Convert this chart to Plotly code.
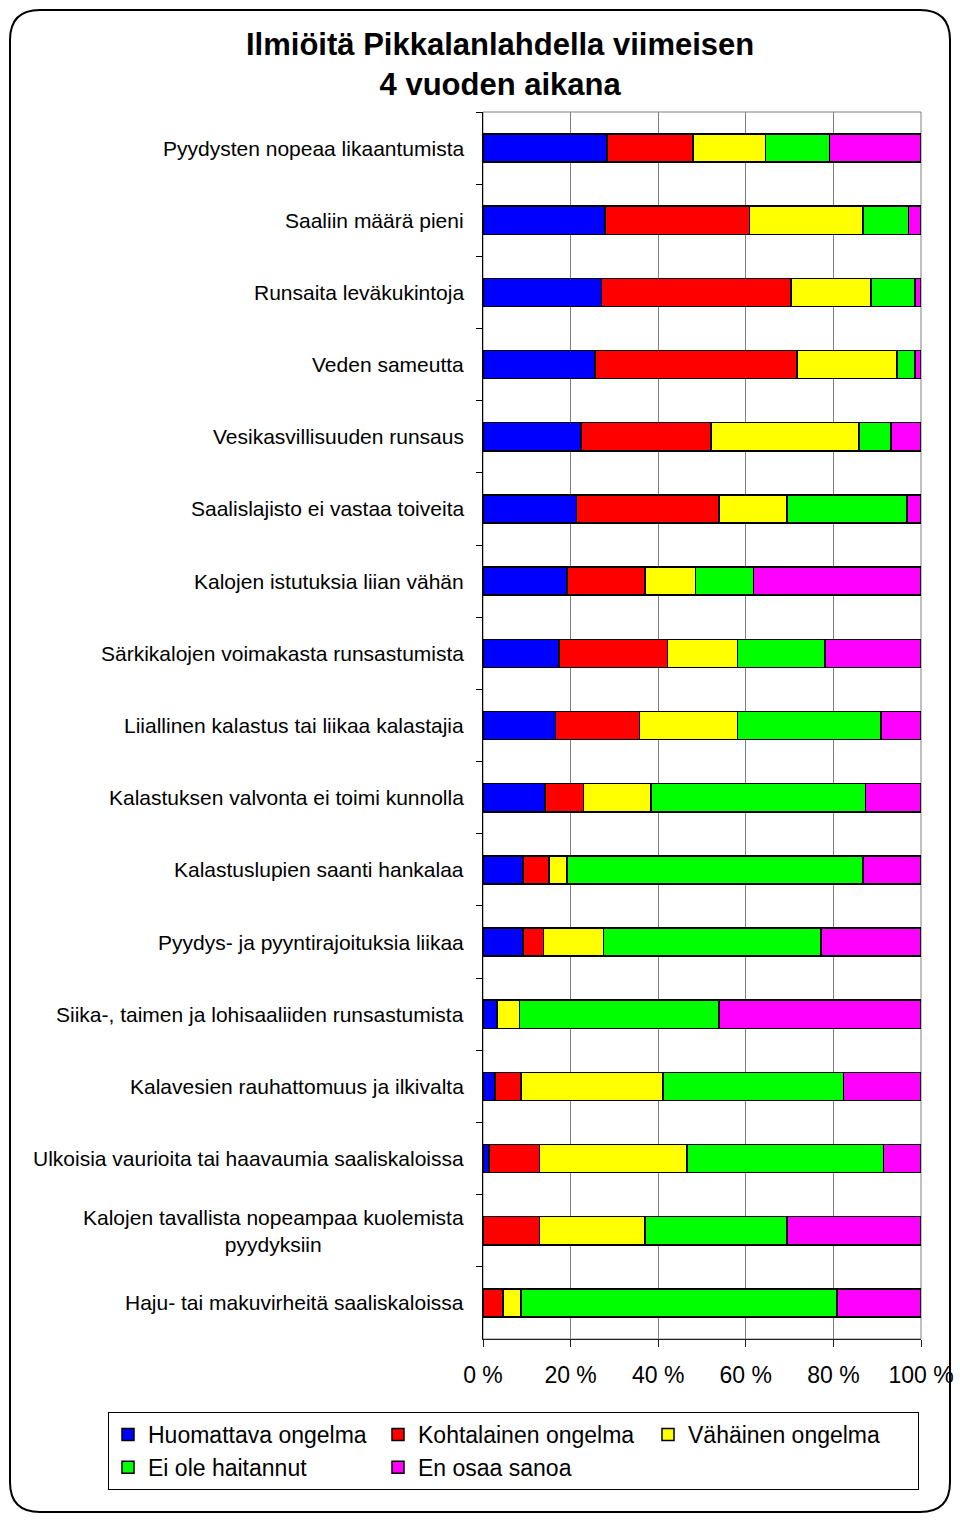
import plotly.graph_objects as go

# Survey categories (top to bottom)
categories = [
    "Pyydysten nopeaa likaantumista",
    "Saaliin määrä pieni",
    "Runsaita leväkukintoja",
    "Veden sameutta",
    "Vesikasvillisuuden runsaus",
    "Saalislajisto ei vastaa toiveita",
    "Kalojen istutuksia liian vähän",
    "Särkikalojen voimakasta runsastumista",
    "Liiallinen kalastus tai liikaa kalastajia",
    "Kalastuksen valvonta ei toimi kunnolla",
    "Kalastuslupien saanti hankalaa",
    "Pyydys- ja pyyntirajoituksia liikaa",
    "Siika-, taimen ja lohisaaliiden runsastumista",
    "Kalavesien rauhattomuus ja ilkivalta",
    "Ulkoisia vaurioita tai haavaumia saaliskaloissa",
    "Kalojen tavallista nopeampaa kuolemista<br>pyydyksiin",
    "Haju- tai makuvirheitä saaliskaloissa",
]

# Share of answers (%) per category
huomattava = [28.3, 27.9, 27.0, 25.6, 22.4, 21.4, 19.2, 17.4, 16.5, 14.1, 9.1, 9.1, 3.2, 2.7, 1.4, 0.0, 0.0]
kohtalainen = [19.6, 32.9, 43.3, 46.1, 29.7, 32.5, 17.8, 24.7, 19.2, 8.9, 6.0, 4.7, 0.0, 6.0, 11.5, 12.9, 4.6]
vahainen = [16.6, 26.0, 18.3, 22.8, 33.8, 15.5, 11.5, 16.0, 22.4, 15.4, 4.1, 13.7, 5.1, 32.4, 33.7, 24.1, 4.1]
ei_haitannut = [14.6, 10.4, 10.0, 4.1, 7.3, 27.4, 13.2, 20.0, 32.8, 48.9, 67.6, 49.7, 45.6, 41.2, 44.8, 32.4, 72.1]
en_osaa = [20.9, 2.8, 1.4, 1.4, 6.8, 3.2, 38.3, 21.9, 9.1, 12.7, 13.2, 22.8, 46.1, 17.7, 8.6, 30.6, 19.2]

series_names = ["Huomattava ongelma", "Kohtalainen ongelma", "Vähäinen ongelma",
                "Ei ole haitannut", "En osaa sanoa"]
series_values = [huomattava, kohtalainen, vahainen, ei_haitannut, en_osaa]
series_colors = ["#0000FF", "#FF0000", "#FFFF00", "#00FF00", "#FF00FF"]
# legend columns: groups are laid out side by side, members stacked
legend_columns = ["c1", "c2", "c3", "c1", "c2"]

x_ticks = [0, 20, 40, 60, 80, 100]
x_ticktext = ["0 %", "20 %", "40 %", "60 %", "80 %", "100 %"]

title_lines = ["Ilmiöitä Pikkalanlahdella viimeisen", "4 vuoden aikana"]

FONT = "Liberation Sans, Arial, sans-serif"
W, H = 960, 1522
L, R, T, B = 483, 921, 112, 1339


def px(x):
    return (x - L) / (R - L)


def py(y):
    return (B - y) / (B - T)


fig = go.Figure()
for name, vals, col, grp in zip(series_names, series_values, series_colors, legend_columns):
    fig.add_trace(go.Bar(
        y=categories,
        x=[v if v > 0 else None for v in vals],
        name=name,
        legendgroup=grp,
        orientation="h",
        marker=dict(color=col, line=dict(color="black", width=1.5)),
        hoverinfo="x+y+name",
    ))

# category labels, centred lines, right edge next to the axis
annotations = []
for c in categories:
    annotations.append(dict(
        x=0, xref="paper", y=c, yref="y", text=c,
        xanchor="right", yanchor="middle", align="center", xshift=-17,
        showarrow=False, font=dict(family=FONT, size=21, color="black"),
    ))

annotations.append(dict(
    x=px(500), xref="paper", y=py(65), yref="paper",
    text="<br>".join("<b>" + t + "</b>" for t in title_lines),
    xanchor="center", yanchor="middle", align="center", showarrow=False,
    font=dict(family=FONT, size=31, color="black"),
))

# rounded outer frame
x0, x1, y0, y1, r = px(10), px(950), py(10), py(1512), 30
rx, ry = r / (R - L), r / (B - T)
frame = (
    f"M {x0 + rx},{y0} L {x1 - rx},{y0} Q {x1},{y0} {x1},{y0 - ry} "
    f"L {x1},{y1 + ry} Q {x1},{y1} {x1 - rx},{y1} "
    f"L {x0 + rx},{y1} Q {x0},{y1} {x0},{y1 + ry} "
    f"L {x0},{y0 - ry} Q {x0},{y0} {x0 + rx},{y0} Z"
)
shapes = [
    dict(type="path", xref="paper", yref="paper", path=frame,
         line=dict(color="black", width=2), fillcolor="rgba(0,0,0,0)", layer="below"),
    dict(type="rect", xref="paper", yref="paper", x0=0, x1=1, y0=0, y1=1,
         line=dict(color="#808080", width=1), layer="below"),
]

fig.update_layout(
    width=W, height=H,
    margin=dict(l=L, r=W - R, t=T, b=H - B, pad=0, autoexpand=False),
    barmode="stack",
    bargap=0.61,
    plot_bgcolor="white",
    paper_bgcolor="white",
    font=dict(family=FONT, color="black"),
    showlegend=True,
    legend=dict(
        orientation="h",
        x=px(108), y=py(1412), xanchor="left", yanchor="top",
        bordercolor="black", borderwidth=1, bgcolor="white",
        font=dict(family=FONT, size=23, color="black"),
        traceorder="grouped",
        tracegroupgap=10,
        entrywidth=225, entrywidthmode="pixels",
    ),
    annotations=annotations,
    shapes=shapes,
)

fig.update_xaxes(
    range=[0, 100],
    tickvals=x_ticks, ticktext=x_ticktext,
    showgrid=True, gridcolor="#808080", gridwidth=1,
    zeroline=False,
    showline=True, linecolor="#202020", linewidth=1,
    ticks="outside", ticklen=7, tickcolor="#202020",
    tickfont=dict(family=FONT, size=23, color="black"),
    ticklabelstandoff=8,
    fixedrange=True,
)
fig.update_yaxes(
    autorange="reversed",
    showticklabels=False,
    showgrid=False, zeroline=False,
    showline=True, linecolor="black", linewidth=1,
    ticks="outside", ticklen=6, tickcolor="black",
    tickson="boundaries",
    fixedrange=True,
)

fig.write_html("out.html")
